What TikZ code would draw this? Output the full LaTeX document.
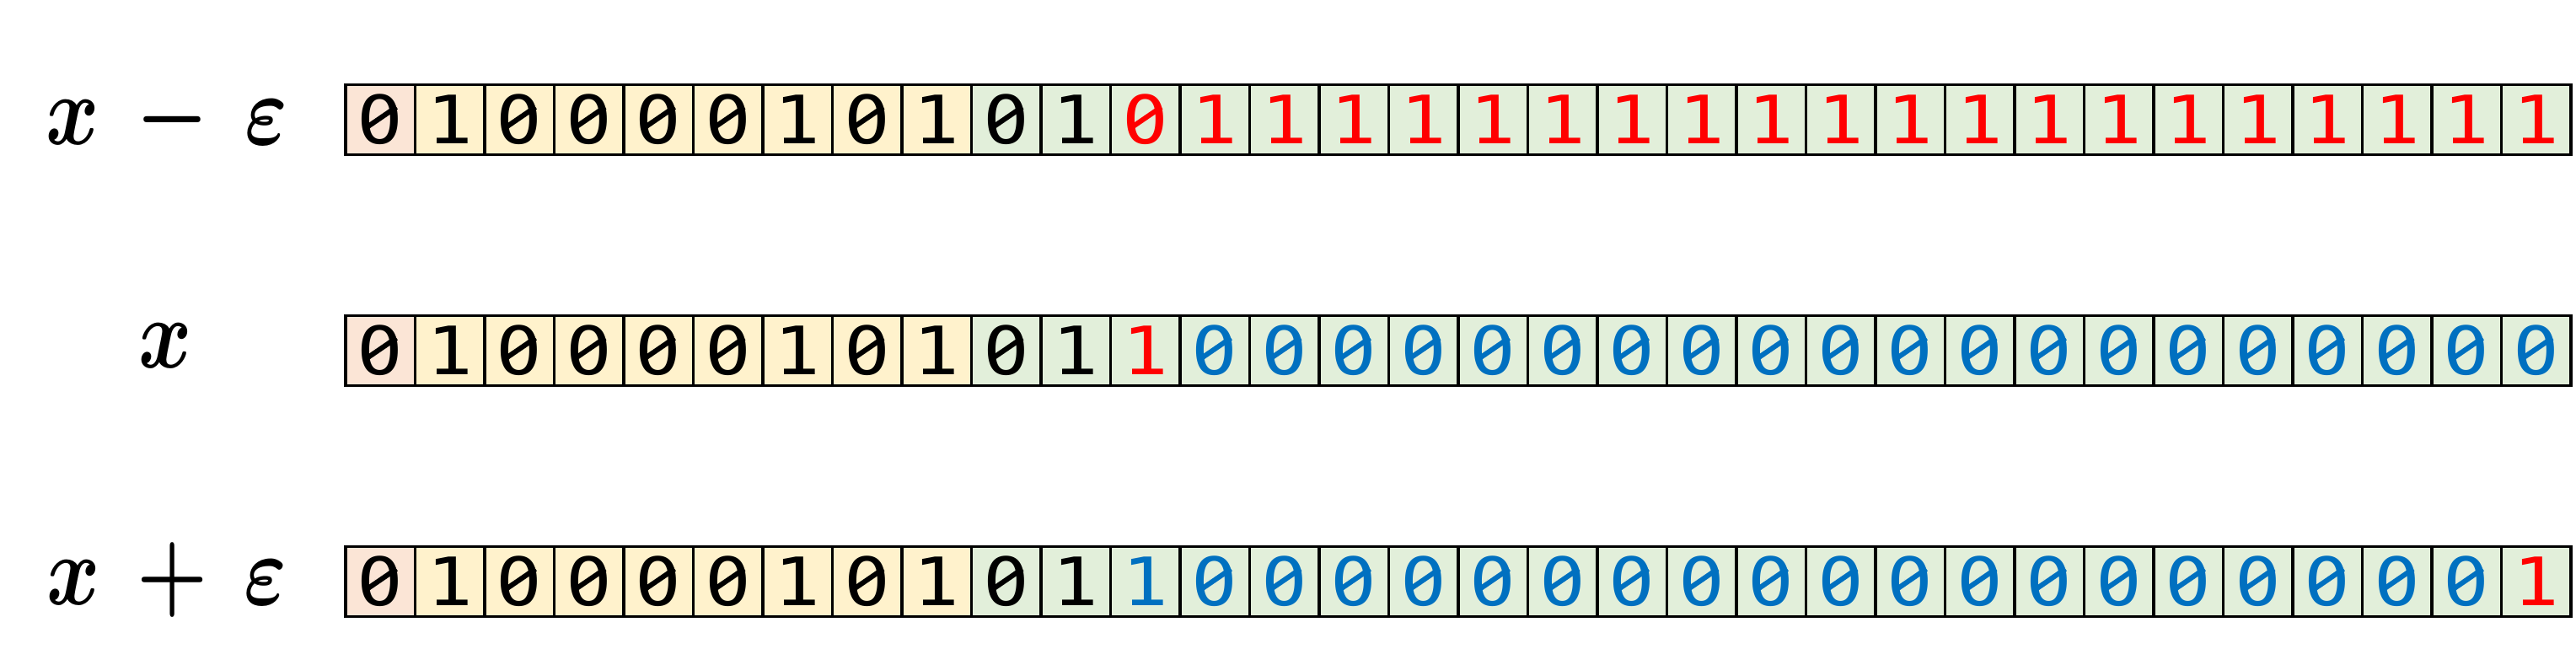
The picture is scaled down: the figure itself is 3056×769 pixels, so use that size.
\documentclass[tikz,border=0pt]{standalone}
\usepackage{fontspec}
\newfontfamily\bitfont{DejaVu Sans Mono}
\definecolor{signc}{HTML}{FBE5D6}
\definecolor{expc}{HTML}{FFF2CC}
\definecolor{manc}{HTML}{E2EFDA}
\definecolor{rd}{HTML}{FF0000}
\definecolor{bl}{HTML}{0070C0}
\colorlet{bk}{black}
\tikzset{
  cell/.style={draw=black, line width=1pt, minimum width=0.825cm, minimum height=0.83cm,
    inner sep=0pt, anchor=center, font=\bitfont\fontsize{22.5}{22.5}\selectfont},
  lbl/.style={anchor=center, inner sep=0pt, font=\Huge\boldmath},
  zslash/.style={line width=1.7pt, line cap=butt}
}
\newcommand{\bitrow}[3]{%
  \foreach \b/\c [count=\i] in {#3} {%
    \ifnum\i=1 \def\fc{signc}\else\ifnum\i<10 \def\fc{expc}\else\def\fc{manc}\fi\fi
    \node[cell, fill=\fc, text=\c] (#1c\i) at ({410+82.5*(\i-0.5)}, #2) {\scalebox{1.15}[1]{\b}};
    \ifnum\b=0
      \fill[\fc] ([yshift=-0.01cm]#1c\i.center) ellipse [x radius=0.075cm, y radius=0.1cm];
      \draw[zslash, \c] ([shift={(-19,11)}]#1c\i.center) -- ([shift={(19,-15)}]#1c\i.center);
    \fi
  }%
}
\begin{document}
\begin{tikzpicture}[x=0.01cm, y=-0.01cm]
\useasboundingbox (0,0) rectangle (3056,769);
\node[lbl] (l1) at (198,142) {\scalebox{1.1}[1.35]{$x\,-\,\varepsilon$}};
\node[lbl] (l2) at (196,410) {\scalebox{1.1}[1.35]{$x$}};
\node[lbl] (l3) at (198,688) {\scalebox{1.1}[1.35]{$x\,+\,\varepsilon$}};
\bitrow{a}{142}{0/bk,1/bk,0/bk,0/bk,0/bk,0/bk,1/bk,0/bk,1/bk,0/bk,1/bk,0/rd,1/rd,1/rd,1/rd,1/rd,1/rd,1/rd,1/rd,1/rd,1/rd,1/rd,1/rd,1/rd,1/rd,1/rd,1/rd,1/rd,1/rd,1/rd,1/rd,1/rd}
\bitrow{b}{416}{0/bk,1/bk,0/bk,0/bk,0/bk,0/bk,1/bk,0/bk,1/bk,0/bk,1/bk,1/rd,0/bl,0/bl,0/bl,0/bl,0/bl,0/bl,0/bl,0/bl,0/bl,0/bl,0/bl,0/bl,0/bl,0/bl,0/bl,0/bl,0/bl,0/bl,0/bl,0/bl}
\bitrow{c}{690}{0/bk,1/bk,0/bk,0/bk,0/bk,0/bk,1/bk,0/bk,1/bk,0/bk,1/bk,1/bl,0/bl,0/bl,0/bl,0/bl,0/bl,0/bl,0/bl,0/bl,0/bl,0/bl,0/bl,0/bl,0/bl,0/bl,0/bl,0/bl,0/bl,0/bl,0/bl,1/rd}
\end{tikzpicture}
\end{document}
